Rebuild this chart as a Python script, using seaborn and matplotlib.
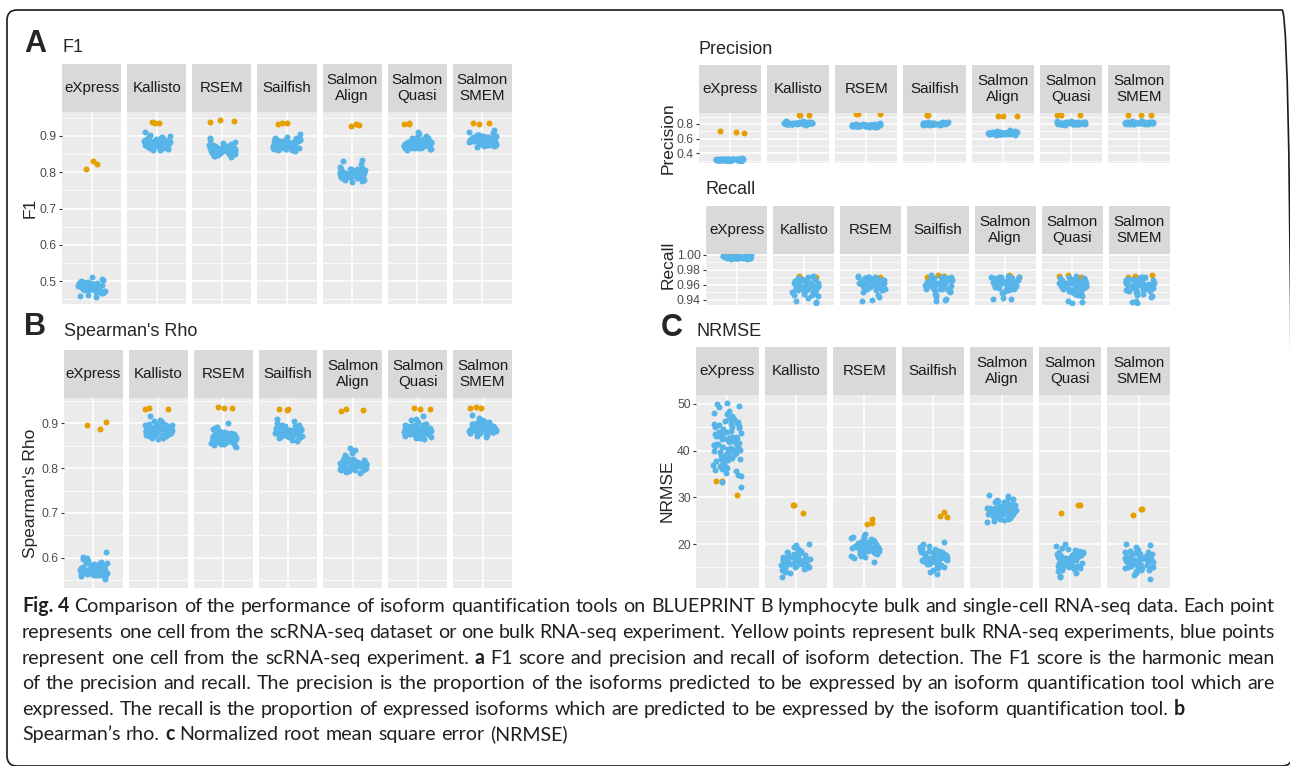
import matplotlib
matplotlib.use("Agg")
import matplotlib.pyplot as plt
from matplotlib.patches import FancyBboxPatch
from matplotlib.transforms import IdentityTransform
import numpy as np
import pandas as pd
import seaborn as sns

tools = ["eXpress", "Kallisto", "RSEM", "Sailfish", "Salmon\nAlign", "Salmon\nQuasi", "Salmon\nSMEM"]

# ---- F1 ----
f1_bulk = [[0.832, 0.822, 0.810], [0.935, 0.938, 0.937], [0.941, 0.944, 0.939],
           [0.935, 0.937, 0.932], [0.931, 0.934, 0.927], [0.933, 0.936, 0.933],
           [0.935, 0.934, 0.937]]
f1_cells = [
    [0.512, 0.506, 0.503, 0.500, 0.498, 0.496, 0.494, 0.493, 0.491, 0.490, 0.489, 0.488, 0.487, 0.486, 0.485, 0.485, 0.484, 0.483,
     0.482, 0.481, 0.480, 0.479, 0.478, 0.477, 0.476, 0.475, 0.474, 0.472, 0.470, 0.468, 0.466, 0.462, 0.458, 0.456, 0.492, 0.483],
    [0.912, 0.904, 0.900, 0.898, 0.896, 0.894, 0.892, 0.890, 0.889, 0.888, 0.887, 0.886, 0.885, 0.884, 0.883, 0.882, 0.881, 0.880,
     0.879, 0.878, 0.877, 0.876, 0.875, 0.874, 0.873, 0.872, 0.870, 0.868, 0.866, 0.864, 0.862, 0.861, 0.886, 0.881, 0.893, 0.879],
    [0.895, 0.888, 0.884, 0.880, 0.877, 0.875, 0.873, 0.871, 0.869, 0.868, 0.866, 0.865, 0.864, 0.863, 0.862, 0.861, 0.860, 0.859,
     0.858, 0.857, 0.856, 0.855, 0.854, 0.853, 0.852, 0.851, 0.850, 0.849, 0.848, 0.846, 0.844, 0.842, 0.858, 0.862, 0.866, 0.870],
    [0.905, 0.898, 0.895, 0.893, 0.891, 0.889, 0.887, 0.885, 0.884, 0.883, 0.882, 0.881, 0.880, 0.879, 0.878, 0.877, 0.876, 0.875,
     0.874, 0.873, 0.872, 0.871, 0.870, 0.869, 0.868, 0.867, 0.866, 0.865, 0.864, 0.862, 0.860, 0.858, 0.876, 0.879, 0.882, 0.885],
    [0.835, 0.831, 0.822, 0.815, 0.812, 0.810, 0.808, 0.806, 0.804, 0.803, 0.802, 0.801, 0.800, 0.799, 0.798, 0.797, 0.796, 0.795,
     0.794, 0.793, 0.792, 0.791, 0.790, 0.789, 0.788, 0.787, 0.786, 0.785, 0.784, 0.782, 0.780, 0.778, 0.775, 0.772, 0.797, 0.800],
    [0.912, 0.906, 0.900, 0.896, 0.893, 0.891, 0.889, 0.887, 0.886, 0.885, 0.884, 0.883, 0.882, 0.881, 0.880, 0.879, 0.878, 0.877,
     0.876, 0.875, 0.874, 0.873, 0.872, 0.871, 0.870, 0.869, 0.868, 0.867, 0.866, 0.865, 0.863, 0.861, 0.878, 0.881, 0.884, 0.875],
    [0.916, 0.910, 0.907, 0.904, 0.902, 0.900, 0.898, 0.896, 0.895, 0.894, 0.893, 0.892, 0.891, 0.890, 0.889, 0.888, 0.887, 0.886,
     0.885, 0.884, 0.883, 0.882, 0.881, 0.880, 0.879, 0.878, 0.877, 0.876, 0.875, 0.873, 0.871, 0.869, 0.890, 0.887, 0.893, 0.885],
]
f1_cells_core = [
    [0.488, 0.486, 0.484, 0.482, 0.480, 0.478, 0.490, 0.492, 0.494, 0.496, 0.485, 0.483, 0.481, 0.479, 0.487, 0.489, 0.491, 0.477,
     0.475, 0.473, 0.495, 0.497, 0.486, 0.484],
    [0.884, 0.882, 0.880, 0.878, 0.876, 0.886, 0.888, 0.890, 0.892, 0.874, 0.872, 0.870, 0.883, 0.881, 0.879, 0.877, 0.885, 0.887,
     0.889, 0.891, 0.875, 0.873, 0.868, 0.895],
    [0.862, 0.860, 0.858, 0.856, 0.864, 0.866, 0.868, 0.854, 0.852, 0.870, 0.872, 0.861, 0.859, 0.857, 0.863, 0.865, 0.855, 0.853,
     0.867, 0.869, 0.851, 0.874, 0.876, 0.849],
    [0.878, 0.876, 0.874, 0.872, 0.880, 0.882, 0.884, 0.870, 0.868, 0.886, 0.888, 0.877, 0.875, 0.873, 0.879, 0.881, 0.871, 0.869,
     0.883, 0.885, 0.867, 0.890, 0.892, 0.865],
    [0.798, 0.796, 0.794, 0.792, 0.800, 0.802, 0.804, 0.790, 0.788, 0.806, 0.808, 0.797, 0.795, 0.793, 0.799, 0.801, 0.791, 0.789,
     0.803, 0.805, 0.787, 0.810, 0.786, 0.784],
    [0.879, 0.877, 0.875, 0.873, 0.881, 0.883, 0.885, 0.871, 0.869, 0.887, 0.889, 0.878, 0.876, 0.874, 0.880, 0.882, 0.872, 0.870,
     0.884, 0.886, 0.868, 0.891, 0.893, 0.866],
    [0.891, 0.889, 0.887, 0.885, 0.893, 0.895, 0.897, 0.883, 0.881, 0.899, 0.901, 0.890, 0.888, 0.886, 0.892, 0.894, 0.884, 0.882,
     0.896, 0.898, 0.880, 0.903, 0.878, 0.876],
]

# ---- Spearman's rho ----
rho_bulk = [[0.887, 0.896, 0.902], [0.932, 0.931, 0.934], [0.937, 0.933, 0.933],
            [0.932, 0.930, 0.931], [0.926, 0.929, 0.932], [0.932, 0.933, 0.931],
            [0.933, 0.935, 0.933]]
rho_cells = [
    [0.613, 0.602, 0.600, 0.597, 0.594, 0.590, 0.588, 0.586, 0.584, 0.582, 0.581, 0.580, 0.579, 0.578, 0.577, 0.576, 0.575, 0.574,
     0.573, 0.572, 0.571, 0.570, 0.569, 0.568, 0.567, 0.566, 0.565, 0.564, 0.563, 0.561, 0.559, 0.557, 0.554, 0.572, 0.576, 0.569],
    [0.915, 0.908, 0.905, 0.902, 0.899, 0.897, 0.895, 0.893, 0.891, 0.890, 0.889, 0.888, 0.887, 0.886, 0.885, 0.884, 0.883, 0.882,
     0.881, 0.880, 0.879, 0.878, 0.877, 0.876, 0.875, 0.874, 0.873, 0.872, 0.870, 0.868, 0.866, 0.865, 0.884, 0.887, 0.890, 0.882],
    [0.900, 0.892, 0.889, 0.886, 0.883, 0.880, 0.878, 0.876, 0.874, 0.873, 0.872, 0.871, 0.870, 0.869, 0.868, 0.867, 0.866, 0.865,
     0.864, 0.863, 0.862, 0.861, 0.860, 0.859, 0.858, 0.857, 0.856, 0.855, 0.854, 0.852, 0.850, 0.848, 0.867, 0.870, 0.864, 0.873],
    [0.910, 0.905, 0.900, 0.897, 0.895, 0.893, 0.891, 0.889, 0.888, 0.887, 0.886, 0.885, 0.884, 0.883, 0.882, 0.881, 0.880, 0.879,
     0.878, 0.877, 0.876, 0.875, 0.874, 0.873, 0.872, 0.871, 0.870, 0.869, 0.868, 0.866, 0.863, 0.861, 0.882, 0.885, 0.879, 0.888],
    [0.845, 0.840, 0.834, 0.828, 0.824, 0.821, 0.819, 0.817, 0.815, 0.814, 0.813, 0.812, 0.811, 0.810, 0.809, 0.808, 0.807, 0.806,
     0.805, 0.804, 0.803, 0.802, 0.801, 0.800, 0.799, 0.798, 0.797, 0.796, 0.795, 0.793, 0.791, 0.789, 0.808, 0.811, 0.805, 0.814],
    [0.915, 0.910, 0.906, 0.902, 0.899, 0.897, 0.895, 0.893, 0.891, 0.890, 0.889, 0.888, 0.887, 0.886, 0.885, 0.884, 0.883, 0.882,
     0.881, 0.880, 0.879, 0.878, 0.877, 0.876, 0.875, 0.874, 0.873, 0.872, 0.870, 0.868, 0.866, 0.865, 0.884, 0.887, 0.881, 0.890],
    [0.918, 0.912, 0.908, 0.905, 0.903, 0.901, 0.899, 0.897, 0.896, 0.895, 0.894, 0.893, 0.892, 0.891, 0.890, 0.889, 0.888, 0.887,
     0.886, 0.885, 0.884, 0.883, 0.882, 0.881, 0.880, 0.879, 0.878, 0.877, 0.875, 0.873, 0.871, 0.869, 0.890, 0.893, 0.887, 0.884],
]
rho_cells_core = [
    [0.576, 0.574, 0.572, 0.570, 0.568, 0.578, 0.580, 0.582, 0.566, 0.564, 0.584, 0.586, 0.575, 0.573, 0.571, 0.569, 0.577, 0.579,
     0.567, 0.565, 0.588, 0.562, 0.581, 0.583],
    [0.886, 0.884, 0.882, 0.880, 0.878, 0.888, 0.890, 0.892, 0.876, 0.874, 0.894, 0.896, 0.885, 0.883, 0.881, 0.879, 0.887, 0.889,
     0.877, 0.875, 0.898, 0.872, 0.891, 0.893],
    [0.868, 0.866, 0.864, 0.862, 0.860, 0.870, 0.872, 0.874, 0.858, 0.856, 0.876, 0.878, 0.867, 0.865, 0.863, 0.861, 0.869, 0.871,
     0.859, 0.857, 0.880, 0.854, 0.873, 0.875],
    [0.884, 0.882, 0.880, 0.878, 0.876, 0.886, 0.888, 0.890, 0.874, 0.872, 0.892, 0.894, 0.883, 0.881, 0.879, 0.877, 0.885, 0.887,
     0.875, 0.873, 0.896, 0.870, 0.889, 0.891],
    [0.810, 0.808, 0.806, 0.804, 0.802, 0.812, 0.814, 0.816, 0.800, 0.798, 0.818, 0.820, 0.809, 0.807, 0.805, 0.803, 0.811, 0.813,
     0.801, 0.799, 0.822, 0.796, 0.815, 0.817],
    [0.886, 0.884, 0.882, 0.880, 0.878, 0.888, 0.890, 0.892, 0.876, 0.874, 0.894, 0.896, 0.885, 0.883, 0.881, 0.879, 0.887, 0.889,
     0.877, 0.875, 0.898, 0.872, 0.891, 0.893],
    [0.891, 0.889, 0.887, 0.885, 0.883, 0.893, 0.895, 0.897, 0.881, 0.879, 0.899, 0.901, 0.890, 0.888, 0.886, 0.884, 0.892, 0.894,
     0.882, 0.880, 0.903, 0.877, 0.896, 0.898],
]

# ---- Precision ----
prec_bulk = [[0.705, 0.695, 0.680], [0.925, 0.923, 0.925], [0.935, 0.935, 0.936],
             [0.920, 0.922, 0.925], [0.910, 0.908, 0.905], [0.925, 0.920, 0.922],
             [0.920, 0.925, 0.920]]
prec_cells = [
    [0.330, 0.327, 0.325, 0.323, 0.321, 0.320, 0.319, 0.318, 0.317, 0.316, 0.315, 0.315, 0.314, 0.313, 0.312, 0.311, 0.310, 0.309,
     0.308, 0.307, 0.306, 0.305, 0.304, 0.303, 0.302, 0.301, 0.300, 0.318, 0.313, 0.310],
    [0.840, 0.835, 0.830, 0.828, 0.825, 0.822, 0.820, 0.818, 0.816, 0.815, 0.814, 0.813, 0.812, 0.811, 0.810, 0.809, 0.808, 0.807,
     0.806, 0.805, 0.804, 0.803, 0.802, 0.800, 0.798, 0.796, 0.794, 0.790, 0.810, 0.815],
    [0.810, 0.805, 0.800, 0.797, 0.795, 0.792, 0.790, 0.788, 0.786, 0.785, 0.784, 0.783, 0.782, 0.781, 0.780, 0.779, 0.778, 0.777,
     0.776, 0.775, 0.774, 0.772, 0.770, 0.768, 0.766, 0.764, 0.760, 0.755, 0.780, 0.785],
    [0.830, 0.826, 0.822, 0.820, 0.818, 0.816, 0.814, 0.812, 0.810, 0.809, 0.808, 0.807, 0.806, 0.805, 0.804, 0.803, 0.802, 0.801,
     0.800, 0.799, 0.798, 0.797, 0.796, 0.795, 0.794, 0.792, 0.790, 0.787, 0.805, 0.800],
    [0.720, 0.710, 0.700, 0.695, 0.690, 0.688, 0.686, 0.684, 0.682, 0.680, 0.679, 0.678, 0.677, 0.676, 0.675, 0.674, 0.673, 0.672,
     0.671, 0.670, 0.669, 0.668, 0.666, 0.664, 0.662, 0.660, 0.656, 0.650, 0.675, 0.680],
    [0.840, 0.836, 0.832, 0.829, 0.826, 0.823, 0.821, 0.819, 0.817, 0.816, 0.815, 0.814, 0.813, 0.812, 0.811, 0.810, 0.809, 0.808,
     0.807, 0.806, 0.805, 0.804, 0.803, 0.801, 0.799, 0.797, 0.795, 0.791, 0.812, 0.816],
    [0.845, 0.840, 0.836, 0.833, 0.830, 0.827, 0.825, 0.823, 0.821, 0.820, 0.819, 0.818, 0.817, 0.816, 0.815, 0.814, 0.813, 0.812,
     0.811, 0.810, 0.809, 0.808, 0.807, 0.805, 0.803, 0.801, 0.799, 0.795, 0.815, 0.820],
]
prec_cells_core = [
    [0.316, 0.314, 0.312, 0.318, 0.320, 0.310, 0.308, 0.322, 0.315, 0.313, 0.311, 0.317, 0.319, 0.309, 0.307, 0.321, 0.324, 0.305,
     0.316, 0.312],
    [0.812, 0.810, 0.808, 0.814, 0.816, 0.806, 0.804, 0.818, 0.811, 0.809, 0.807, 0.813, 0.815, 0.805, 0.803, 0.820, 0.822, 0.801,
     0.812, 0.808],
    [0.782, 0.780, 0.778, 0.784, 0.786, 0.776, 0.774, 0.788, 0.781, 0.779, 0.777, 0.783, 0.785, 0.775, 0.773, 0.790, 0.792, 0.771,
     0.782, 0.778],
    [0.806, 0.804, 0.802, 0.808, 0.810, 0.800, 0.798, 0.812, 0.805, 0.803, 0.801, 0.807, 0.809, 0.799, 0.797, 0.814, 0.816, 0.795,
     0.806, 0.802],
    [0.676, 0.674, 0.672, 0.678, 0.680, 0.670, 0.668, 0.682, 0.675, 0.673, 0.671, 0.677, 0.679, 0.669, 0.667, 0.684, 0.686, 0.665,
     0.676, 0.672],
    [0.813, 0.811, 0.809, 0.815, 0.817, 0.807, 0.805, 0.819, 0.812, 0.810, 0.808, 0.814, 0.816, 0.806, 0.804, 0.821, 0.823, 0.802,
     0.813, 0.809],
    [0.817, 0.815, 0.813, 0.819, 0.821, 0.811, 0.809, 0.823, 0.816, 0.814, 0.812, 0.818, 0.820, 0.810, 0.808, 0.825, 0.827, 0.806,
     0.817, 0.813],
]

# ---- Recall ----
rec_bulk = [[0.9990, 0.9985, 0.9992], [0.971, 0.972, 0.966], [0.969, 0.970, 0.968],
            [0.973, 0.972, 0.971], [0.972, 0.973, 0.970], [0.972, 0.973, 0.970],
            [0.972, 0.973, 0.970]]
rec_cells = [
    [0.9995, 0.9990, 0.9988, 0.9985, 0.9983, 0.9980, 0.9978, 0.9976, 0.9975, 0.9974, 0.9973, 0.9972, 0.9971, 0.9970, 0.9969,
     0.9968, 0.9967, 0.9966, 0.9965, 0.9964, 0.9962, 0.9960, 0.9958, 0.9955, 0.9952, 0.9950, 0.9975, 0.9970, 0.9980, 0.9965],
    [0.972, 0.970, 0.969, 0.968, 0.967, 0.966, 0.965, 0.964, 0.963, 0.962, 0.961, 0.960, 0.959, 0.958, 0.957, 0.956, 0.955, 0.954,
     0.953, 0.952, 0.951, 0.950, 0.949, 0.948, 0.947, 0.946, 0.945, 0.943, 0.939, 0.937, 0.936, 0.958, 0.962, 0.955, 0.960, 0.953],
    [0.972, 0.971, 0.970, 0.969, 0.968, 0.967, 0.966, 0.966, 0.965, 0.964, 0.964, 0.963, 0.963, 0.962, 0.962, 0.961, 0.961, 0.960,
     0.960, 0.959, 0.958, 0.957, 0.956, 0.955, 0.954, 0.953, 0.950, 0.947, 0.944, 0.940, 0.939, 0.965, 0.963, 0.968, 0.961, 0.958],
    [0.973, 0.971, 0.970, 0.969, 0.968, 0.967, 0.966, 0.965, 0.964, 0.963, 0.962, 0.961, 0.960, 0.959, 0.958, 0.957, 0.956, 0.955,
     0.954, 0.953, 0.952, 0.950, 0.948, 0.946, 0.944, 0.941, 0.940, 0.938, 0.962, 0.960, 0.965, 0.958, 0.963, 0.967, 0.956, 0.961],
    [0.972, 0.971, 0.970, 0.969, 0.968, 0.967, 0.966, 0.966, 0.965, 0.964, 0.963, 0.963, 0.962, 0.962, 0.961, 0.960, 0.960, 0.959,
     0.958, 0.957, 0.956, 0.955, 0.954, 0.953, 0.951, 0.949, 0.943, 0.941, 0.941, 0.964, 0.962, 0.967, 0.960, 0.965, 0.958, 0.961],
    [0.972, 0.970, 0.969, 0.968, 0.967, 0.966, 0.965, 0.964, 0.963, 0.962, 0.961, 0.960, 0.959, 0.958, 0.957, 0.956, 0.955, 0.954,
     0.953, 0.952, 0.951, 0.950, 0.948, 0.946, 0.945, 0.939, 0.937, 0.936, 0.962, 0.960, 0.964, 0.958, 0.966, 0.956, 0.961, 0.963],
    [0.971, 0.970, 0.969, 0.968, 0.967, 0.966, 0.965, 0.964, 0.963, 0.962, 0.961, 0.960, 0.959, 0.958, 0.957, 0.956, 0.955, 0.954,
     0.953, 0.952, 0.951, 0.950, 0.948, 0.946, 0.945, 0.944, 0.938, 0.937, 0.936, 0.962, 0.960, 0.964, 0.958, 0.966, 0.956, 0.961],
]
rec_cells_core = [
    [0.9972, 0.9970, 0.9968, 0.9975, 0.9978, 0.9965, 0.9962, 0.9980, 0.9971, 0.9969, 0.9967, 0.9974, 0.9977, 0.9963, 0.9960,
     0.9982, 0.9985, 0.9958, 0.9973, 0.9966],
    [0.962, 0.960, 0.958, 0.964, 0.966, 0.956, 0.954, 0.968, 0.961, 0.959, 0.957, 0.963, 0.965, 0.955, 0.953, 0.967, 0.969, 0.951,
     0.962, 0.958],
    [0.964, 0.962, 0.960, 0.966, 0.968, 0.958, 0.956, 0.970, 0.963, 0.961, 0.959, 0.965, 0.967, 0.957, 0.955, 0.969, 0.971, 0.953,
     0.964, 0.960],
    [0.963, 0.961, 0.959, 0.965, 0.967, 0.957, 0.955, 0.969, 0.962, 0.960, 0.958, 0.964, 0.966, 0.956, 0.954, 0.968, 0.970, 0.952,
     0.963, 0.959],
    [0.964, 0.962, 0.960, 0.966, 0.968, 0.958, 0.956, 0.970, 0.963, 0.961, 0.959, 0.965, 0.967, 0.957, 0.955, 0.969, 0.971, 0.953,
     0.964, 0.960],
    [0.962, 0.960, 0.958, 0.964, 0.966, 0.956, 0.954, 0.968, 0.961, 0.959, 0.957, 0.963, 0.965, 0.955, 0.953, 0.967, 0.969, 0.951,
     0.962, 0.958],
    [0.963, 0.961, 0.959, 0.965, 0.967, 0.957, 0.955, 0.969, 0.962, 0.960, 0.958, 0.964, 0.966, 0.956, 0.954, 0.968, 0.970, 0.952,
     0.963, 0.959],
]

# ---- NRMSE ----
nrmse_bulk = [[33.5, 33.5, 30.6], [28.3, 28.3, 26.7], [25.4, 24.6, 24.2], [26.8, 25.8, 26.1],
              [27.5, 28.0, 26.8], [28.3, 28.3, 26.7], [26.2, 27.6, 27.6]]
nrmse_cells = [
    [50.2, 49.9, 49.6, 49.3, 48.0, 47.8, 47.2, 46.8, 46.5, 46.3, 46.0, 45.8, 45.5, 45.2, 45.0, 44.6, 44.2, 43.8, 43.5, 43.2, 43.0,
     42.7, 42.5, 42.2, 42.0, 41.8, 41.6, 41.4, 41.2, 41.0, 40.8, 40.6, 40.4, 40.2, 40.0, 39.8, 39.6, 39.4, 39.2, 39.0, 38.8, 38.5,
     38.2, 38.0, 37.7, 37.4, 37.0, 36.7, 36.4, 36.0, 35.6, 35.2, 34.8, 33.3, 32.3, 41.5, 40.5, 43.1, 44.0, 39.5, 42.8, 37.9, 41.1,
     46.2, 45.1],
    [20.0, 19.8, 19.4, 19.0, 18.7, 18.4, 18.1, 17.9, 17.7, 17.5, 17.3, 17.1, 17.0, 16.8, 16.7, 16.5, 16.4, 16.3, 16.1, 16.0, 15.9,
     15.7, 15.6, 15.4, 15.3, 15.1, 14.9, 14.7, 14.5, 14.3, 14.1, 13.8, 13.0, 16.6, 17.2, 15.8, 16.2, 17.6],
    [22.1, 21.8, 21.5, 21.2, 20.9, 20.6, 20.4, 20.2, 20.0, 19.9, 19.7, 19.6, 19.5, 19.4, 19.3, 19.2, 19.1, 19.0, 18.9, 18.8, 18.7,
     18.6, 18.5, 18.3, 18.1, 17.9, 17.7, 17.5, 17.3, 17.0, 16.2, 19.3, 18.9, 19.8, 20.3, 18.4],
    [20.5, 20.0, 19.6, 19.2, 18.9, 18.6, 18.3, 18.0, 17.8, 17.6, 17.4, 17.3, 17.1, 17.0, 16.9, 16.8, 16.6, 16.5, 16.3, 16.1, 16.0,
     15.8, 15.6, 15.4, 15.2, 15.0, 14.8, 14.5, 14.0, 13.5, 17.2, 17.7, 16.7, 18.2, 15.7, 16.4],
    [30.4, 30.2, 29.9, 29.6, 29.3, 29.0, 28.8, 28.6, 28.4, 28.2, 28.0, 27.8, 27.6, 27.5, 27.4, 27.3, 27.2, 27.0, 26.9, 26.8, 26.6,
     26.5, 26.4, 26.2, 26.0, 25.8, 25.6, 25.4, 25.2, 25.0, 24.7, 27.3, 27.8, 26.8, 28.3, 27.1, 26.3, 29.1],
    [20.0, 19.6, 19.2, 18.9, 18.6, 18.3, 18.0, 17.8, 17.6, 17.4, 17.2, 17.0, 16.9, 16.8, 16.6, 16.5, 16.3, 16.2, 16.0, 15.8, 15.6,
     15.4, 15.2, 15.0, 14.8, 14.5, 14.2, 13.8, 13.2, 12.9, 16.7, 17.3, 15.9, 16.4, 17.9, 15.3],
    [20.0, 19.7, 19.4, 19.0, 18.7, 18.4, 18.1, 17.9, 17.6, 17.4, 17.2, 17.0, 16.9, 16.7, 16.6, 16.4, 16.3, 16.1, 16.0, 15.8, 15.6,
     15.4, 15.2, 15.0, 14.8, 14.5, 14.2, 13.8, 13.4, 12.6, 16.5, 17.1, 15.7, 16.2, 17.8, 15.1],
]
nrmse_cells_core = [
    [41.3, 40.7, 42.4, 39.9, 43.6, 38.6, 44.8, 37.2, 45.6, 36.2, 41.9, 40.1, 42.9, 39.3, 46.7, 35.8, 47.5, 34.5, 43.9, 38.3, 40.9,
     42.1, 48.4, 36.9],
    [16.6, 16.4, 16.2, 16.8, 17.0, 16.0, 15.8, 17.2, 16.5, 16.3, 16.1, 16.9, 17.4, 15.5, 15.2, 17.8, 18.2, 14.8, 18.6, 14.4],
    [19.4, 19.2, 19.0, 19.6, 19.8, 18.8, 18.6, 20.0, 19.3, 19.1, 18.9, 19.7, 20.2, 18.4, 18.2, 20.6, 21.0, 17.8, 21.4, 17.4],
    [17.4, 17.2, 17.0, 17.6, 17.8, 16.8, 16.6, 18.0, 17.3, 17.1, 16.9, 17.7, 18.2, 16.4, 16.2, 18.6, 19.0, 15.8, 19.4, 15.4],
    [27.4, 27.2, 27.0, 27.6, 27.8, 26.8, 26.6, 28.0, 27.3, 27.1, 26.9, 27.7, 28.2, 26.4, 26.2, 28.6, 29.0, 25.8, 29.4, 25.4],
    [16.8, 16.6, 16.4, 17.0, 17.2, 16.2, 16.0, 17.4, 16.7, 16.5, 16.3, 17.1, 17.6, 15.7, 15.4, 18.0, 18.4, 15.0, 18.8, 14.6],
    [16.6, 16.4, 16.2, 16.8, 17.0, 16.0, 15.8, 17.2, 16.5, 16.3, 16.1, 16.9, 17.4, 15.5, 15.2, 17.8, 18.2, 14.8, 18.6, 14.4],
]

caption_lines = [
    [("Fig. 4", True), ("Comparison of the performance of isoform quantification tools on BLUEPRINT B lymphocyte bulk and single-cell RNA-seq data. Each point", False)],
    [("represents one cell from the scRNA-seq dataset or one bulk RNA-seq experiment. Yellow points represent bulk RNA-seq experiments, blue points", False)],
    [("represent one cell from the scRNA-seq experiment.", False), ("a", True), ("F1 score and precision and recall of isoform detection. The F1 score is the harmonic mean", False)],
    [("of the precision and recall. The precision is the proportion of the isoforms predicted to be expressed by an isoform quantification tool which are", False)],
    [("expressed. The recall is the proportion of expressed isoforms which are predicted to be expressed by the isoform quantification tool.", False), ("b", True)],
    [("Spearman\u2019s rho.", False), ("c", True), ("Normalized root mean square error (NRMSE)", False)],
]

W, H = 1290, 766
BLUE, ORANGE = "#56B4E9", "#E69F00"
PANEL_BG, STRIP_BG = "#EBEBEB", "#D9D9D9"

sns.set_theme(style="darkgrid", rc={"axes.facecolor": PANEL_BG, "grid.color": "white"})
plt.rcParams["font.family"] = ["Liberation Sans", "DejaVu Sans"]
np.random.seed(3)

fig = plt.figure(figsize=(W / 100, H / 100), dpi=100)
fig.patch.set_facecolor("white")


def to_frame(bulk, cells, core):
    rows = []
    for tool, b, c, k in zip(tools, bulk, cells, core):
        rows += [(tool, v, "bulk") for v in b]
        rows += [(tool, v, "cell") for v in c + k]
    return pd.DataFrame(rows, columns=["tool", "value", "kind"])


def facet_row(df, x0, x1, strip_top, plot_top, plot_bot, ylim, major, minor, fmt):
    n, gap = len(tools), 6
    w = (x1 - x0 - gap * (n - 1)) / n
    for i, tool in enumerate(tools):
        left = x0 + i * (w + gap)
        ax = fig.add_axes([left / W, 1 - plot_bot / H, w / W, (plot_bot - plot_top) / H])
        sub = df[df.tool == tool]
        for kind, col in [("bulk", ORANGE), ("cell", BLUE)]:
            sns.stripplot(data=sub[sub.kind == kind], x="tool", y="value", ax=ax, color=col,
                          jitter=0.28, size=4.3, linewidth=0, zorder=3)
        ax.set_xlim(-0.6, 0.6)
        ax.set_ylim(*ylim)
        ax.set_facecolor(PANEL_BG)
        for s in ax.spines.values():
            s.set_visible(False)
        ax.set_xticks([0])
        ax.set_xticklabels([])
        ax.set_yticks(major)
        ax.set_yticks(minor, minor=True)
        ax.set_xlabel("")
        ax.set_ylabel("")
        ax.grid(True, which="major", color="white", lw=1.1)
        ax.grid(True, which="minor", axis="y", color="white", lw=0.55)
        ax.set_axisbelow(True)
        ax.tick_params(axis="x", length=0)
        ax.tick_params(axis="y", which="minor", length=0)
        if i == 0:
            ax.set_yticklabels([fmt.format(v) for v in major])
            ax.tick_params(axis="y", which="major", length=2.3, width=0.8, color="#333333",
                           labelcolor="#4D4D4D", labelsize=8.7, pad=1.5, left=True)
        else:
            ax.tick_params(axis="y", which="major", length=0, labelleft=False)
        sax = fig.add_axes([left / W, 1 - plot_top / H, w / W, (plot_top - strip_top) / H])
        sax.set_facecolor(STRIP_BG)
        sax.set_xticks([])
        sax.set_yticks([])
        sax.grid(False)
        for s in sax.spines.values():
            s.set_visible(False)
        sax.text(0.5, 0.5, tool, ha="center", va="center", fontsize=10.9, color="#1A1A1A",
                 linespacing=1.2, transform=sax.transAxes)


def label(x, y, text, size, **kw):
    fig.text(x / W, 1 - y / H, text, fontsize=size, **kw)


# A: F1
facet_row(to_frame(f1_bulk, f1_cells, f1_cells_core), 62, 512, 64, 112, 304, (0.437, 0.966),
          [0.5, 0.6, 0.7, 0.8, 0.9], [0.45, 0.55, 0.65, 0.75, 0.85, 0.95], "{:.1f}")
label(62, 48, "F1", 13, va="center")
label(30, 208, "F1", 12.5, va="center", ha="center", rotation=90)
label(24, 44, "A", 22, va="center", fontweight="bold")

# Precision
facet_row(to_frame(prec_bulk, prec_cells, prec_cells_core), 699, 1170, 65, 113, 163, (0.268, 0.95),
          [0.4, 0.6, 0.8], [0.3, 0.5, 0.7, 0.9], "{:.1f}")
label(699, 49, "Precision", 13, va="center")
label(668, 138, "Precision", 12.5, va="center", ha="center", rotation=90)

# Recall
facet_row(to_frame(rec_bulk, rec_cells, rec_cells_core), 706, 1170, 206, 254, 305, (0.9333, 1.0013),
          [0.94, 0.96, 0.98, 1.00], [0.95, 0.97, 0.99], "{:.2f}")
label(706, 190, "Recall", 13, va="center")
label(668, 265, "Recall", 12.5, va="center", ha="center", rotation=90)

# B: Spearman's rho
facet_row(to_frame(rho_bulk, rho_cells, rho_cells_core), 64, 512, 350, 398, 588, (0.533, 0.956),
          [0.6, 0.7, 0.8, 0.9], [0.55, 0.65, 0.75, 0.85, 0.95], "{:.1f}")
label(64, 332, "Spearman's Rho", 13, va="center")
label(31, 493, "Spearman's Rho", 12.5, va="center", ha="center", rotation=90)
label(24, 327, "B", 22, va="center", fontweight="bold")

# C: NRMSE
facet_row(to_frame(nrmse_bulk, nrmse_cells, nrmse_cells_core), 696, 1170, 347, 395, 588, (10.6, 51.9),
          [20, 30, 40, 50], [15, 25, 35, 45], "{:.0f}")
label(696, 332, "NRMSE", 13, va="center")
label(667, 491, "NRMSE", 12.5, va="center", ha="center", rotation=90)
label(661, 328, "C", 22, va="center", fontweight="bold")

# caption, words laid out one by one
CAP_FONT = ["Lato", "Open Sans", "DejaVu Sans"]
renderer = fig.canvas.get_renderer()
base = 10.0


def cap_text(s, bold=False):
    return fig.text(0, 0, s, fontsize=base, fontweight="bold" if bold else "normal",
                    family=CAP_FONT, color="#231F20", va="baseline")


probe_a, probe_b = cap_text("n n"), cap_text("nn")
space0 = probe_a.get_window_extent(renderer).width - probe_b.get_window_extent(renderer).width
probe_a.remove()
probe_b.remove()

lines = []
for line in caption_lines:
    lines.append([cap_text(wd, bold) for seg, bold in line for wd in seg.split(" ")])
widths = [[t.get_window_extent(renderer).width for t in words] for words in lines]
natural = sum(widths[0]) + space0 * (len(widths[0]) - 1)
left_x = 22
fs = base * (1275 - left_x) / natural
scale = fs / base
right_ends = [1275, 1275, 1275, 1275, None, None]
for li, words in enumerate(lines):
    ws = [v * scale for v in widths[li]]
    sp = space0 * scale
    if right_ends[li] is not None:
        sp_j = (right_ends[li] - left_x - sum(ws)) / (len(ws) - 1)
        if 0.6 * sp < sp_j < 2.0 * sp:
            sp = sp_j
    y = 606 + 25.6 * li + 0.33 * fs * 100 / 72
    x = left_x
    for t, wv in zip(words, ws):
        t.set_fontsize(fs)
        t.set_position((x / W, 1 - y / H))
        x += wv + sp

# outer rounded frame
frame = FancyBboxPatch((7, 0), 1285, 756, boxstyle="round,pad=0,rounding_size=10",
                       transform=IdentityTransform(), fill=False, ec="#1A1A1A", lw=1.2)
fig.add_artist(frame)

fig.savefig("out.png", dpi=100)
plt.close(fig)
